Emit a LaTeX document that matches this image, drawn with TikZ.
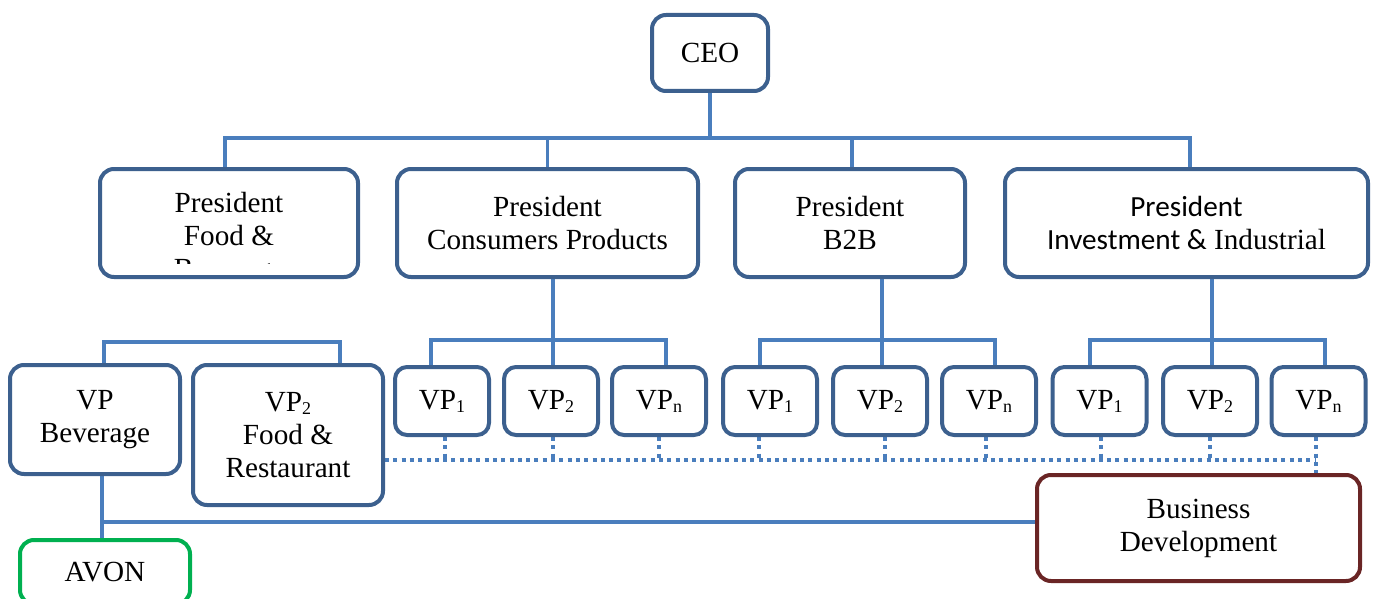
\documentclass[tikz,border=0pt]{standalone}
\usepackage{fontspec}
\setmainfont{Liberation Serif}
\newfontfamily\calfont{Carlito}
\usetikzlibrary{calc}

\definecolor{boxblue}{RGB}{60,96,142}
\definecolor{linkblue}{RGB}{74,126,189}
\definecolor{bdred}{RGB}{106,37,37}
\definecolor{avongreen}{RGB}{0,176,80}

\pgfdeclarelayer{background}
\pgfsetlayers{background,main}

% lowered index after VP
\newcommand{\vpidx}[1]{\raisebox{-3pt}{\fontsize{18}{18}\selectfont #1}}

\tikzset{
  orgbox/.style={draw=boxblue, line width=4pt, rounded corners=14pt, fill=white,
    align=center, inner sep=0pt, font=\fontsize{29.2}{33}\selectfont},
  vpbox/.style={orgbox, rounded corners=12pt, minimum width=94pt, minimum height=68pt},
  conn/.style={draw=linkblue, line width=3.3pt},
  dotconn/.style={draw=linkblue, line width=3.3pt, dash pattern=on 4pt off 4.3pt},
}

\begin{document}
\begin{tikzpicture}[x=1pt,y=-1pt]
\useasboundingbox (0,0) rectangle (1375,599);
\clip (0,0) rectangle (1375,599);

% top level
\node[orgbox, minimum width=116pt, minimum height=76pt] (ceo) at (710,53) {CEO};

% presidents
\node[orgbox, minimum width=258pt, minimum height=108pt, text depth=8pt] (food) at (229,223) {President\\Food \&};
\node[orgbox, minimum width=301pt, minimum height=108pt] (cons) at (547.5,223) {President\\Consumers Products};
\node[orgbox, minimum width=230pt, minimum height=108pt] (b2b) at (850,223) {President\\B2B};
\node[orgbox, minimum width=363pt, minimum height=108pt] (inv) at (1186.5,223)
  {{\calfont President}\\{\calfont Investment \&} Industrial};

% third line of the food president box, cut off by the box
\begin{scope}
  \clip (100,250) rectangle (358,263.5);
  \node[anchor=base, font=\fontsize{29.2}{33}\selectfont, inner sep=0pt] (foodrest) at (229,278) {Beverage};
\end{scope}

% food vice presidents
\node[orgbox, minimum width=170pt, minimum height=109pt] (vpbev) at (95,419.5) {VP\\Beverage};
\node[orgbox, minimum width=190pt, minimum height=140pt] (vpfood) at (288,435) {VP\vpidx{2}\\Food \&\\Restaurant};

% consumer products vice presidents
\node[vpbox] (c1) at (442,401) {VP\vpidx{1}};
\node[vpbox] (c2) at (551,401) {VP\vpidx{2}};
\node[vpbox] (c3) at (659,401) {VP\vpidx{n}};

% B2B vice presidents
\node[vpbox] (b1) at (770,401) {VP\vpidx{1}};
\node[vpbox] (b2) at (880,401) {VP\vpidx{2}};
\node[vpbox] (b3) at (989,401) {VP\vpidx{n}};

% investment vice presidents
\node[vpbox] (i1) at (1099.5,401) {VP\vpidx{1}};
\node[vpbox] (i2) at (1210,401) {VP\vpidx{2}};
\node[vpbox] (i3) at (1318.5,401) {VP\vpidx{n}};

% business development and AVON
\node[orgbox, draw=bdred, minimum width=323pt, minimum height=106pt] (busdev) at (1198.5,528) {Business\\Development};
\node[orgbox, draw=avongreen, minimum width=170pt, minimum height=64pt] (avon) at (105,572) {AVON};

% bus heights
\coordinate (topbus) at (0,138);
\coordinate (foodbus) at (0,342);
\coordinate (vpbus) at (0,340);
\coordinate (dotbus) at (0,460);
\coordinate (bdbus) at (0,522);

\begin{pgfonlayer}{background}
  % CEO to presidents
  \draw[conn] (ceo.south) -- (ceo.south |- topbus);
  \draw[conn] ([xshift=-4pt]food.north) -- ([xshift=-4pt]food.north |- topbus)
    -- ([xshift=3.5pt]inv.north |- topbus) -- ([xshift=3.5pt]inv.north);
  \draw[conn] (cons.north) -- (cons.north |- topbus);
  \draw[conn] ([xshift=2pt]b2b.north) -- ([xshift=2pt]b2b.north |- topbus);

  % food group
  \draw[conn] ([xshift=9pt]vpbev.north) -- ([xshift=9pt]vpbev.north |- foodbus)
    -- ([xshift=52pt]vpfood.north |- foodbus) -- ([xshift=52pt]vpfood.north);

  % consumer products group
  \draw[conn] ([xshift=2pt]c2.north) -- ([xshift=2pt]c2.north |- cons.south);
  \draw[conn] ([xshift=-11pt]c1.north) -- ([xshift=-11pt]c1.north |- vpbus)
    -- ([xshift=7pt]c3.north |- vpbus) -- ([xshift=7pt]c3.north);

  % B2B group
  \draw[conn] ([xshift=2pt]b2.north) -- ([xshift=2pt]b2.north |- b2b.south);
  \draw[conn] ([xshift=-10pt]b1.north) -- ([xshift=-10pt]b1.north |- vpbus)
    -- ([xshift=6pt]b3.north |- vpbus) -- ([xshift=6pt]b3.north);

  % investment group
  \draw[conn] ([xshift=2pt]i2.north) -- ([xshift=2pt]i2.north |- inv.south);
  \draw[conn] ([xshift=-9.5pt]i1.north) -- ([xshift=-9.5pt]i1.north |- vpbus)
    -- ([xshift=6.5pt]i3.north |- vpbus) -- ([xshift=6.5pt]i3.north);

  % beverage to AVON and business development
  \draw[conn] ([xshift=7pt]vpbev.south) -- ([xshift=7pt]vpbev.south |- avon.north);
  \draw[conn] ([xshift=7pt]vpbev.south |- bdbus) -- (busdev.west |- bdbus);

  % dotted links to business development
  \draw[dotconn] (vpfood.east |- dotbus) -- ([xshift=-2.5pt]i3.south |- dotbus);
  \draw[dotconn] ([xshift=3pt]c1.south) -- ([xshift=3pt]c1.south |- dotbus);
  \draw[dotconn] ([xshift=2pt]c2.south) -- ([xshift=2pt]c2.south |- dotbus);
  \draw[dotconn] (c3.south) -- (c3.south |- dotbus);
  \draw[dotconn] ([xshift=-11pt]b1.south) -- ([xshift=-11pt]b1.south |- dotbus);
  \draw[dotconn] ([xshift=5pt]b2.south) -- ([xshift=5pt]b2.south |- dotbus);
  \draw[dotconn] ([xshift=-3pt]b3.south) -- ([xshift=-3pt]b3.south |- dotbus);
  \draw[dotconn] ([xshift=1.5pt]i1.south) -- ([xshift=1.5pt]i1.south |- dotbus);
  \draw[dotconn] (i2.south) -- (i2.south |- dotbus);
  \draw[dotconn] ([xshift=-2.5pt]i3.south) -- ([xshift=-2.5pt]i3.south |- busdev.north);
\end{pgfonlayer}
\end{tikzpicture}
\end{document}
